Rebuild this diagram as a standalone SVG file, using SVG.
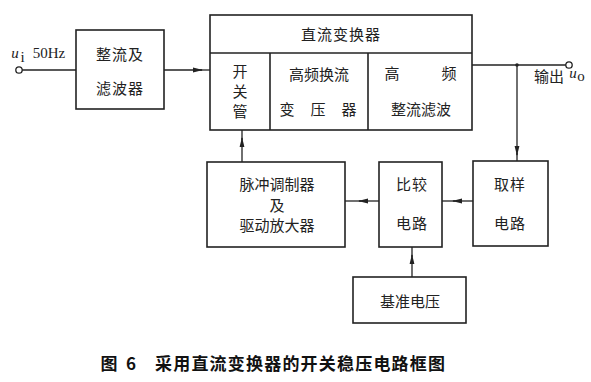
<svg xmlns="http://www.w3.org/2000/svg" width="591" height="382" viewBox="0 0 591 382">
<style>
.b{fill:none;stroke:#222;stroke-width:1.6}
.l{fill:none;stroke:#222;stroke-width:1.3}
text{font-family:"Noto Sans CJK SC","Liberation Serif",serif;font-size:15px;fill:#222;text-anchor:middle;dominant-baseline:central}
.lat{font-family:"Liberation Serif",serif;font-size:15px}
.cap{font-size:17px;font-weight:bold;fill:#111}
</style>
<defs>
<marker id="ar" markerWidth="10" markerHeight="6" refX="9" refY="3" orient="auto" markerUnits="userSpaceOnUse">
<path d="M0,0.6 L10,3 L0,5.4 Z" fill="#222"/>
</marker>
</defs>
<rect width="591" height="382" fill="#fff"/>
<g id="connectors">
<line class="l" x1="22" y1="70" x2="76" y2="70"/>
<line class="l" x1="164" y1="70" x2="202" y2="70" marker-end="url(#ar)"/>
<line class="l" x1="200" y1="70" x2="210" y2="70"/>
<line class="l" x1="472" y1="65" x2="566" y2="65"/>
<circle cx="517" cy="65" r="1.8" fill="#222"/>
<line class="l" x1="517" y1="65" x2="517" y2="155" marker-end="url(#ar)"/>
<line class="l" x1="517" y1="153" x2="517" y2="161"/>
<line class="l" x1="242" y1="162" x2="242" y2="138" marker-end="url(#ar)"/>
<line class="l" x1="242" y1="140" x2="242" y2="130"/>
<line class="l" x1="412" y1="277" x2="412" y2="255" marker-end="url(#ar)"/>
<line class="l" x1="412" y1="257" x2="412" y2="247"/>
<line class="l" x1="473" y1="201" x2="453" y2="201" marker-end="url(#ar)"/>
<line class="l" x1="455" y1="201" x2="442" y2="201"/>
<line class="l" x1="379" y1="201" x2="359" y2="201" marker-end="url(#ar)"/>
<line class="l" x1="361" y1="201" x2="345" y2="201"/>
</g>
<g id="input">
<circle cx="19" cy="70" r="3.2" fill="#fff" stroke="#222" stroke-width="1.3"/>
<text class="lat" x="15" y="53" font-style="italic" font-size="16">u</text>
<text class="lat" x="22.5" y="57" font-size="7">i</text>
<text class="lat" x="49" y="53" font-size="16">50Hz</text>
</g>
<g id="rectifier">
<rect class="b" x="76" y="30" width="88" height="79"/>
<text x="120" y="53" letter-spacing="1">整流及</text>
<text x="120" y="87" letter-spacing="1">滤波器</text>
</g>
<g id="dc-converter">
<rect class="b" x="210" y="15" width="262" height="115"/>
<line class="b" x1="210" y1="53" x2="472" y2="53"/>
<line class="b" x1="270" y1="53" x2="270" y2="130"/>
<line class="b" x1="368" y1="53" x2="368" y2="130"/>
<text x="341" y="33" letter-spacing="1">直流变换器</text>
<text x="240" y="70">开</text>
<text x="240" y="90">关</text>
<text x="240" y="110">管</text>
<text x="319" y="73">高频换流</text>
<text x="287" y="108">变</text>
<text x="318" y="108">压</text>
<text x="349" y="108">器</text>
<text x="392" y="72">高</text>
<text x="449" y="72">频</text>
<text x="421" y="108">整流滤波</text>
</g>
<g id="output">
<circle cx="569" cy="65" r="3.2" fill="#fff" stroke="#222" stroke-width="1.3"/>
<text x="549" y="75">输出</text>
<text class="lat" x="573" y="73" font-style="italic" font-size="16">u</text>
<text class="lat" x="581" y="76" font-size="8">o</text>
</g>
<g id="pulse-modulator">
<rect class="b" x="207" y="162" width="138" height="85"/>
<text x="277" y="183">脉冲调制器</text>
<text x="277" y="204">及</text>
<text x="277" y="224">驱动放大器</text>
</g>
<g id="comparator">
<rect class="b" x="379" y="162" width="63" height="85"/>
<text x="412" y="183" letter-spacing="1">比较</text>
<text x="412" y="222" letter-spacing="1">电路</text>
</g>
<g id="sampling">
<rect class="b" x="473" y="161" width="75" height="85"/>
<text x="510" y="183" letter-spacing="1">取样</text>
<text x="510" y="222" letter-spacing="1">电路</text>
</g>
<g id="reference">
<rect class="b" x="353" y="277" width="113" height="46"/>
<text x="410" y="300">基准电压</text>
</g>
<g id="caption">
<text class="cap" x="109" y="362">图</text>
<text class="cap" x="131" y="362">6</text>
<text class="cap" x="300" y="362" textLength="290" lengthAdjust="spacing">采用直流变换器的开关稳压电路框图</text>
</g>
</svg>
